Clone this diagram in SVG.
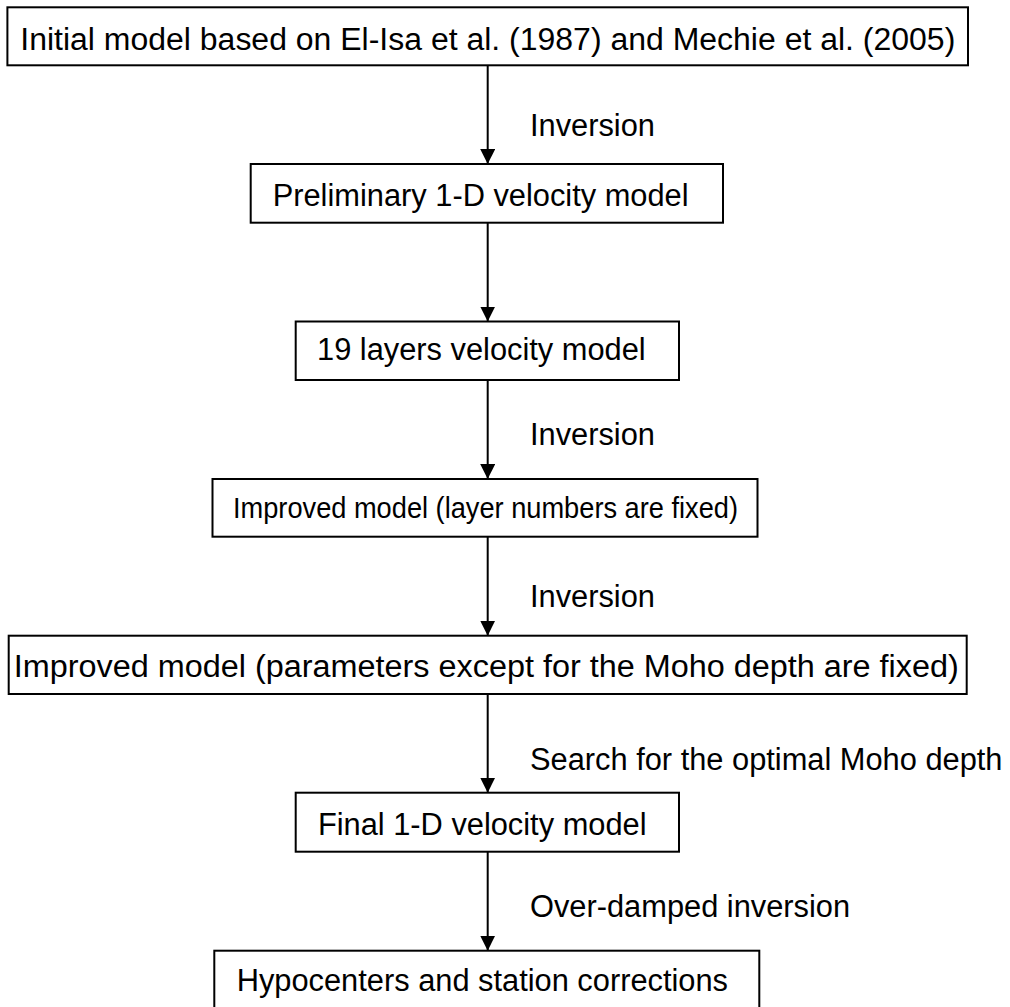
<svg xmlns="http://www.w3.org/2000/svg" width="1010" height="1007" viewBox="0 0 1010 1007">
<style>
.box{fill:#fff;stroke:#000;stroke-width:2}
.t{font-family:"Liberation Sans",Arial,sans-serif;font-size:30.8px;fill:#000}
.c{font-family:"Liberation Sans",Arial,sans-serif;font-size:31px;fill:#000}
.e{stroke:#000;stroke-width:2;fill:none}
</style>
<defs>
<marker id="ah" markerUnits="userSpaceOnUse" markerWidth="16" markerHeight="15" refX="15" refY="7.5" orient="auto">
<path d="M0,0 L15,7.5 L0,15 Z" fill="#000"/>
</marker>
</defs>
<rect width="1010" height="1007" fill="#fff"/>
<g id="connectors">
<line class="e" x1="487.7" y1="65.3" x2="487.7" y2="164" marker-end="url(#ah)"/>
<line class="e" x1="487.7" y1="222.7" x2="487.7" y2="321.5" marker-end="url(#ah)"/>
<line class="e" x1="487.7" y1="380" x2="487.7" y2="479" marker-end="url(#ah)"/>
<line class="e" x1="487.7" y1="536.7" x2="487.7" y2="635.7" marker-end="url(#ah)"/>
<line class="e" x1="487.7" y1="694" x2="487.7" y2="792.7" marker-end="url(#ah)"/>
<line class="e" x1="487.7" y1="851.7" x2="487.7" y2="950.7" marker-end="url(#ah)"/>
<text class="t" x="530" y="136">Inversion</text>
<text class="t" x="530" y="445">Inversion</text>
<text class="t" x="530" y="607">Inversion</text>
<text class="t" x="530" y="770">Search for the optimal Moho depth</text>
<text class="t" x="530" y="917">Over-damped inversion</text>
</g>
<g id="n1">
<rect class="box" x="7.4" y="7.3" width="960.6" height="58"/>
<text class="c" x="20.3" y="49.5" textLength="935" lengthAdjust="spacingAndGlyphs">Initial model based on El-Isa et al. (1987) and Mechie et al. (2005)</text>
</g>
<g id="n2">
<rect class="box" x="250.7" y="164" width="472.3" height="58.7"/>
<text class="t" x="272.7" y="206">Preliminary 1-D velocity model</text>
</g>
<g id="n3">
<rect class="box" x="295.7" y="321.5" width="383.3" height="58.5"/>
<text class="t" x="317" y="360">19 layers velocity model</text>
</g>
<g id="n4">
<rect class="box" x="212.5" y="479" width="545" height="57.7"/>
<text class="t" x="233" y="518" style="font-size:30px" textLength="505" lengthAdjust="spacingAndGlyphs">Improved model (layer numbers are fixed)</text>
</g>
<g id="n5">
<rect class="box" x="8.7" y="635.7" width="958" height="58.3"/>
<text class="c" x="13.8" y="677" textLength="945" lengthAdjust="spacingAndGlyphs">Improved model (parameters except for the Moho depth are fixed)</text>
</g>
<g id="n6">
<rect class="box" x="295.7" y="792.7" width="383.3" height="59"/>
<text class="t" x="317.9" y="835">Final 1-D velocity model</text>
</g>
<g id="n7">
<rect class="box" x="214.3" y="950.7" width="545" height="60"/>
<text class="t" x="236.7" y="991">Hypocenters and station corrections</text>
</g>
</svg>
